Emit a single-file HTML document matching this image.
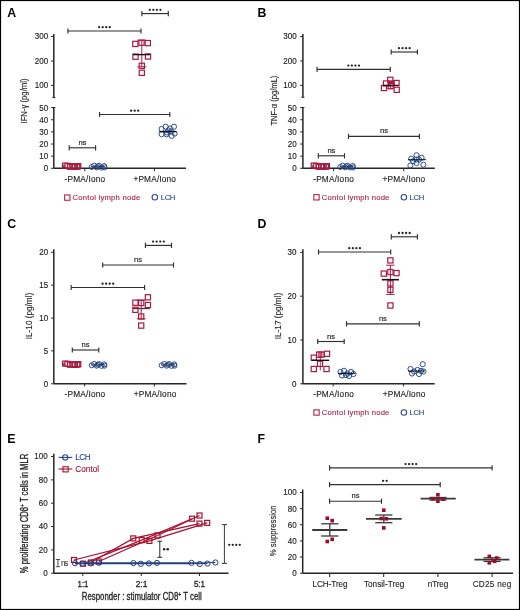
<!DOCTYPE html>
<html><head><meta charset="utf-8"><style>
html,body{margin:0;padding:0;background:#fff;}
svg{display:block;will-change:transform;}
text{font-family:"Liberation Sans", sans-serif;}
</style></head><body>
<svg width="520" height="610" viewBox="0 0 520 610">
<rect x="0" y="0" width="520" height="610" fill="#fff"/>
<text x="7.2" y="17.3" font-size="12.3" text-anchor="start" fill="#000" font-weight="bold" >A</text>
<line x1="53.8" y1="34" x2="53.8" y2="97.6" stroke="#262626" stroke-width="1.5" />
<line x1="52.3" y1="97.6" x2="55.3" y2="97.6" stroke="#262626" stroke-width="1.0" />
<line x1="51.1" y1="36.5" x2="53.8" y2="36.5" stroke="#262626" stroke-width="1.0" />
<text x="48.1" y="39.4" font-size="8.9" text-anchor="end" fill="#222" font-weight="normal" stroke="#222" stroke-width="0.15" textLength="13.36" lengthAdjust="spacingAndGlyphs">300</text>
<line x1="51.1" y1="61" x2="53.8" y2="61" stroke="#262626" stroke-width="1.0" />
<text x="48.1" y="63.9" font-size="8.9" text-anchor="end" fill="#222" font-weight="normal" stroke="#222" stroke-width="0.15" textLength="13.36" lengthAdjust="spacingAndGlyphs">200</text>
<line x1="51.1" y1="85.4" x2="53.8" y2="85.4" stroke="#262626" stroke-width="1.0" />
<text x="48.1" y="88.30000000000001" font-size="8.9" text-anchor="end" fill="#222" font-weight="normal" stroke="#222" stroke-width="0.15" textLength="13.36" lengthAdjust="spacingAndGlyphs">100</text>
<line x1="53.8" y1="107.5" x2="53.8" y2="168.3" stroke="#262626" stroke-width="1.5" />
<line x1="52.3" y1="107.5" x2="55.3" y2="107.5" stroke="#262626" stroke-width="1.0" />
<line x1="51.1" y1="107.6" x2="53.8" y2="107.6" stroke="#262626" stroke-width="1.0" />
<text x="48.1" y="110.5" font-size="8.9" text-anchor="end" fill="#222" font-weight="normal" stroke="#222" stroke-width="0.15" textLength="8.91" lengthAdjust="spacingAndGlyphs">50</text>
<line x1="51.1" y1="119.74" x2="53.8" y2="119.74" stroke="#262626" stroke-width="1.0" />
<text x="48.1" y="122.64" font-size="8.9" text-anchor="end" fill="#222" font-weight="normal" stroke="#222" stroke-width="0.15" textLength="8.91" lengthAdjust="spacingAndGlyphs">40</text>
<line x1="51.1" y1="131.88" x2="53.8" y2="131.88" stroke="#262626" stroke-width="1.0" />
<text x="48.1" y="134.78" font-size="8.9" text-anchor="end" fill="#222" font-weight="normal" stroke="#222" stroke-width="0.15" textLength="8.91" lengthAdjust="spacingAndGlyphs">30</text>
<line x1="51.1" y1="144.01999999999998" x2="53.8" y2="144.01999999999998" stroke="#262626" stroke-width="1.0" />
<text x="48.1" y="146.92" font-size="8.9" text-anchor="end" fill="#222" font-weight="normal" stroke="#222" stroke-width="0.15" textLength="8.91" lengthAdjust="spacingAndGlyphs">20</text>
<line x1="51.1" y1="156.16" x2="53.8" y2="156.16" stroke="#262626" stroke-width="1.0" />
<text x="48.1" y="159.06" font-size="8.9" text-anchor="end" fill="#222" font-weight="normal" stroke="#222" stroke-width="0.15" textLength="8.91" lengthAdjust="spacingAndGlyphs">10</text>
<line x1="51.1" y1="168.3" x2="53.8" y2="168.3" stroke="#262626" stroke-width="1.0" />
<text x="48.1" y="171.20000000000002" font-size="8.9" text-anchor="end" fill="#222" font-weight="normal" stroke="#222" stroke-width="0.15" textLength="4.45" lengthAdjust="spacingAndGlyphs">0</text>
<line x1="53.8" y1="168.3" x2="186" y2="168.3" stroke="#262626" stroke-width="1.5" />
<line x1="84.8" y1="168.3" x2="84.8" y2="171.2" stroke="#262626" stroke-width="1.0" />
<line x1="154.4" y1="168.3" x2="154.4" y2="171.2" stroke="#262626" stroke-width="1.0" />
<text x="84.9" y="181.9" font-size="8.3" text-anchor="middle" fill="#222" font-weight="normal" stroke="#222" stroke-width="0.12" textLength="40.6" lengthAdjust="spacing">-PMA/Iono</text>
<text x="154.7" y="181.9" font-size="8.3" text-anchor="middle" fill="#222" font-weight="normal" stroke="#222" stroke-width="0.12" textLength="42.6" lengthAdjust="spacing">+PMA/Iono</text>
<rect x="64.65" y="194.95" width="5.3" height="5.3" fill="none" stroke="#ad1840" stroke-width="1.05"/>
<text x="72.6" y="199.7" font-size="7.7" text-anchor="start" fill="#ad1840" font-weight="normal" stroke="#ad1840" stroke-width="0.1" textLength="67.6" lengthAdjust="spacing">Contol lymph node</text>
<circle cx="154.8" cy="197.2" r="2.75" fill="none" stroke="#23468a" stroke-width="1.05"/>
<text x="160.8" y="199.7" font-size="7.7" text-anchor="start" fill="#23468a" font-weight="normal" stroke="#23468a" stroke-width="0.1" textLength="14.6" lengthAdjust="spacing">LCH</text>
<text x="0" y="0" font-size="9.2" text-anchor="middle" fill="#222" stroke="#222" stroke-width="0.12" transform="translate(27.4,101) rotate(-90)"  textLength="45" lengthAdjust="spacingAndGlyphs">IFN-γ (pg/ml)</text>
<line x1="67.9" y1="31" x2="141" y2="31" stroke="#303030" stroke-width="1.15" />
<line x1="67.9" y1="28.4" x2="67.9" y2="33.6" stroke="#303030" stroke-width="1.15" />
<line x1="141" y1="28.4" x2="141" y2="33.6" stroke="#303030" stroke-width="1.15" />
<circle cx="99.12" cy="27.20" r="1.15" fill="#222"/>
<circle cx="102.67" cy="27.20" r="1.15" fill="#222"/>
<circle cx="106.22" cy="27.20" r="1.15" fill="#222"/>
<circle cx="109.78" cy="27.20" r="1.15" fill="#222"/>
<line x1="141.9" y1="13.6" x2="168.3" y2="13.6" stroke="#303030" stroke-width="1.15" />
<line x1="141.9" y1="11.0" x2="141.9" y2="16.2" stroke="#303030" stroke-width="1.15" />
<line x1="168.3" y1="11.0" x2="168.3" y2="16.2" stroke="#303030" stroke-width="1.15" />
<circle cx="149.78" cy="9.80" r="1.15" fill="#222"/>
<circle cx="153.33" cy="9.80" r="1.15" fill="#222"/>
<circle cx="156.88" cy="9.80" r="1.15" fill="#222"/>
<circle cx="160.43" cy="9.80" r="1.15" fill="#222"/>
<line x1="99.6" y1="114.5" x2="169.8" y2="114.5" stroke="#303030" stroke-width="1.15" />
<line x1="99.6" y1="111.9" x2="99.6" y2="117.1" stroke="#303030" stroke-width="1.15" />
<line x1="169.8" y1="111.9" x2="169.8" y2="117.1" stroke="#303030" stroke-width="1.15" />
<circle cx="131.15" cy="110.70" r="1.15" fill="#222"/>
<circle cx="134.70" cy="110.70" r="1.15" fill="#222"/>
<circle cx="138.25" cy="110.70" r="1.15" fill="#222"/>
<line x1="69.2" y1="147.8" x2="95.6" y2="147.8" stroke="#303030" stroke-width="1.15" />
<line x1="69.2" y1="145.20000000000002" x2="69.2" y2="150.4" stroke="#303030" stroke-width="1.15" />
<line x1="95.6" y1="145.20000000000002" x2="95.6" y2="150.4" stroke="#303030" stroke-width="1.15" />
<text x="82.4" y="144.8" font-size="7.6" text-anchor="middle" fill="#222" font-weight="normal" stroke="#222" stroke-width="0.15" >ns</text>
<line x1="141.8" y1="40.2" x2="141.8" y2="66.8" stroke="#ad1840" stroke-width="1.0" />
<line x1="137.4" y1="40.2" x2="146.20000000000002" y2="40.2" stroke="#ad1840" stroke-width="1.0" />
<line x1="137.4" y1="66.8" x2="146.20000000000002" y2="66.8" stroke="#ad1840" stroke-width="1.0" />
<rect x="132.70" y="41.30" width="5.2" height="5.2" fill="none" stroke="#ad1840" stroke-width="1.2"/>
<rect x="138.90" y="40.10" width="5.2" height="5.2" fill="none" stroke="#ad1840" stroke-width="1.2"/>
<rect x="145.20" y="40.50" width="5.2" height="5.2" fill="none" stroke="#ad1840" stroke-width="1.2"/>
<rect x="132.90" y="54.10" width="5.2" height="5.2" fill="none" stroke="#ad1840" stroke-width="1.2"/>
<rect x="145.40" y="53.90" width="5.2" height="5.2" fill="none" stroke="#ad1840" stroke-width="1.2"/>
<rect x="139.20" y="63.20" width="5.2" height="5.2" fill="none" stroke="#ad1840" stroke-width="1.2"/>
<rect x="139.20" y="70.20" width="5.2" height="5.2" fill="none" stroke="#ad1840" stroke-width="1.2"/>
<line x1="132.8" y1="54.6" x2="150.1" y2="54.6" stroke="#111" stroke-width="1.4" />
<circle cx="165.7" cy="126.7" r="2.55" fill="none" stroke="#23468a" stroke-width="0.95"/>
<circle cx="174" cy="126.7" r="2.55" fill="none" stroke="#23468a" stroke-width="0.95"/>
<circle cx="161.6" cy="129" r="2.55" fill="none" stroke="#23468a" stroke-width="0.95"/>
<circle cx="161.6" cy="134.2" r="2.55" fill="none" stroke="#23468a" stroke-width="0.95"/>
<circle cx="166.5" cy="134.4" r="2.55" fill="none" stroke="#23468a" stroke-width="0.95"/>
<circle cx="171.7" cy="135.9" r="2.55" fill="none" stroke="#23468a" stroke-width="0.95"/>
<circle cx="174.6" cy="133.6" r="2.55" fill="none" stroke="#23468a" stroke-width="0.95"/>
<circle cx="168.5" cy="130.5" r="2.55" fill="none" stroke="#23468a" stroke-width="0.95"/>
<circle cx="170" cy="128.5" r="2.55" fill="none" stroke="#23468a" stroke-width="0.95"/>
<circle cx="167" cy="132.5" r="2.55" fill="none" stroke="#23468a" stroke-width="0.95"/>
<circle cx="171" cy="131.5" r="2.55" fill="none" stroke="#23468a" stroke-width="0.95"/>
<line x1="159.3" y1="131.6" x2="176.6" y2="131.6" stroke="#111" stroke-width="1.3" />
<rect x="62.50" y="163.10" width="5.0" height="5.0" fill="none" stroke="#ad1840" stroke-width="1.2"/>
<rect x="65.00" y="163.30" width="5.0" height="5.0" fill="none" stroke="#ad1840" stroke-width="1.2"/>
<rect x="67.50" y="164.30" width="5.0" height="5.0" fill="none" stroke="#ad1840" stroke-width="1.2"/>
<rect x="70.00" y="163.70" width="5.0" height="5.0" fill="none" stroke="#ad1840" stroke-width="1.2"/>
<rect x="72.50" y="164.40" width="5.0" height="5.0" fill="none" stroke="#ad1840" stroke-width="1.2"/>
<rect x="75.00" y="164.20" width="5.0" height="5.0" fill="none" stroke="#ad1840" stroke-width="1.2"/>
<rect x="75.80" y="163.60" width="5.0" height="5.0" fill="none" stroke="#ad1840" stroke-width="1.2"/>
<line x1="63.5" y1="164.8" x2="63.5" y2="168.0" stroke="#333" stroke-width="0.7" />
<line x1="64.3" y1="164.8" x2="64.3" y2="168.0" stroke="#333" stroke-width="0.7" />
<line x1="71.5" y1="164.8" x2="71.5" y2="168.0" stroke="#333" stroke-width="0.7" />
<line x1="76.7" y1="164.8" x2="76.7" y2="168.0" stroke="#333" stroke-width="0.7" />
<line x1="79.3" y1="164.8" x2="79.3" y2="168.0" stroke="#333" stroke-width="0.7" />
<circle cx="91.7" cy="167.0" r="2.5" fill="none" stroke="#23468a" stroke-width="0.95"/>
<circle cx="94.2" cy="165.6" r="2.5" fill="none" stroke="#23468a" stroke-width="0.95"/>
<circle cx="96.7" cy="167.4" r="2.5" fill="none" stroke="#23468a" stroke-width="0.95"/>
<circle cx="99.2" cy="165.79999999999998" r="2.5" fill="none" stroke="#23468a" stroke-width="0.95"/>
<circle cx="101.6" cy="167.6" r="2.5" fill="none" stroke="#23468a" stroke-width="0.95"/>
<circle cx="104.2" cy="166.0" r="2.5" fill="none" stroke="#23468a" stroke-width="0.95"/>
<circle cx="104.5" cy="167.4" r="2.5" fill="none" stroke="#23468a" stroke-width="0.95"/>
<circle cx="97.8" cy="166.29999999999998" r="2.5" fill="none" stroke="#23468a" stroke-width="0.95"/>
<line x1="91" y1="166.6" x2="105" y2="166.6" stroke="#222" stroke-width="0.7" />
<text x="257.6" y="17.2" font-size="12.3" text-anchor="start" fill="#000" font-weight="bold" >B</text>
<line x1="302.9" y1="34" x2="302.9" y2="97.3" stroke="#262626" stroke-width="1.5" />
<line x1="301.4" y1="97.3" x2="304.4" y2="97.3" stroke="#262626" stroke-width="1.0" />
<line x1="300.2" y1="36.5" x2="302.9" y2="36.5" stroke="#262626" stroke-width="1.0" />
<text x="296.6" y="39.4" font-size="8.9" text-anchor="end" fill="#222" font-weight="normal" stroke="#222" stroke-width="0.15" textLength="13.36" lengthAdjust="spacingAndGlyphs">300</text>
<line x1="300.2" y1="61" x2="302.9" y2="61" stroke="#262626" stroke-width="1.0" />
<text x="296.6" y="63.9" font-size="8.9" text-anchor="end" fill="#222" font-weight="normal" stroke="#222" stroke-width="0.15" textLength="13.36" lengthAdjust="spacingAndGlyphs">200</text>
<line x1="300.2" y1="85.4" x2="302.9" y2="85.4" stroke="#262626" stroke-width="1.0" />
<text x="296.6" y="88.30000000000001" font-size="8.9" text-anchor="end" fill="#222" font-weight="normal" stroke="#222" stroke-width="0.15" textLength="13.36" lengthAdjust="spacingAndGlyphs">100</text>
<line x1="302.9" y1="107.5" x2="302.9" y2="168.3" stroke="#262626" stroke-width="1.5" />
<line x1="301.4" y1="107.5" x2="304.4" y2="107.5" stroke="#262626" stroke-width="1.0" />
<line x1="300.2" y1="107.6" x2="302.9" y2="107.6" stroke="#262626" stroke-width="1.0" />
<text x="296.6" y="110.5" font-size="8.9" text-anchor="end" fill="#222" font-weight="normal" stroke="#222" stroke-width="0.15" textLength="8.91" lengthAdjust="spacingAndGlyphs">50</text>
<line x1="300.2" y1="119.74" x2="302.9" y2="119.74" stroke="#262626" stroke-width="1.0" />
<text x="296.6" y="122.64" font-size="8.9" text-anchor="end" fill="#222" font-weight="normal" stroke="#222" stroke-width="0.15" textLength="8.91" lengthAdjust="spacingAndGlyphs">40</text>
<line x1="300.2" y1="131.88" x2="302.9" y2="131.88" stroke="#262626" stroke-width="1.0" />
<text x="296.6" y="134.78" font-size="8.9" text-anchor="end" fill="#222" font-weight="normal" stroke="#222" stroke-width="0.15" textLength="8.91" lengthAdjust="spacingAndGlyphs">30</text>
<line x1="300.2" y1="144.01999999999998" x2="302.9" y2="144.01999999999998" stroke="#262626" stroke-width="1.0" />
<text x="296.6" y="146.92" font-size="8.9" text-anchor="end" fill="#222" font-weight="normal" stroke="#222" stroke-width="0.15" textLength="8.91" lengthAdjust="spacingAndGlyphs">20</text>
<line x1="300.2" y1="156.16" x2="302.9" y2="156.16" stroke="#262626" stroke-width="1.0" />
<text x="296.6" y="159.06" font-size="8.9" text-anchor="end" fill="#222" font-weight="normal" stroke="#222" stroke-width="0.15" textLength="8.91" lengthAdjust="spacingAndGlyphs">10</text>
<line x1="300.2" y1="168.3" x2="302.9" y2="168.3" stroke="#262626" stroke-width="1.0" />
<text x="296.6" y="171.20000000000002" font-size="8.9" text-anchor="end" fill="#222" font-weight="normal" stroke="#222" stroke-width="0.15" textLength="4.45" lengthAdjust="spacingAndGlyphs">0</text>
<line x1="302.9" y1="168.3" x2="434.8" y2="168.3" stroke="#262626" stroke-width="1.5" />
<line x1="333.6" y1="168.3" x2="333.6" y2="171.2" stroke="#262626" stroke-width="1.0" />
<line x1="403.7" y1="168.3" x2="403.7" y2="171.2" stroke="#262626" stroke-width="1.0" />
<text x="333.5" y="181.9" font-size="8.3" text-anchor="middle" fill="#222" font-weight="normal" stroke="#222" stroke-width="0.12" textLength="40.6" lengthAdjust="spacing">-PMA/Iono</text>
<text x="403.8" y="181.9" font-size="8.3" text-anchor="middle" fill="#222" font-weight="normal" stroke="#222" stroke-width="0.12" textLength="42.6" lengthAdjust="spacing">+PMA/Iono</text>
<rect x="313.85" y="194.65" width="5.3" height="5.3" fill="none" stroke="#ad1840" stroke-width="1.05"/>
<text x="321.8" y="199.5" font-size="7.7" text-anchor="start" fill="#ad1840" font-weight="normal" stroke="#ad1840" stroke-width="0.1" textLength="67.6" lengthAdjust="spacing">Contol lymph node</text>
<circle cx="403.9" cy="197.2" r="2.75" fill="none" stroke="#23468a" stroke-width="1.05"/>
<text x="409.6" y="199.5" font-size="7.7" text-anchor="start" fill="#23468a" font-weight="normal" stroke="#23468a" stroke-width="0.1" textLength="14.6" lengthAdjust="spacing">LCH</text>
<text x="0" y="0" font-size="9.2" text-anchor="middle" fill="#222" stroke="#222" stroke-width="0.12" transform="translate(276.7,100.6) rotate(-90)"  textLength="50" lengthAdjust="spacingAndGlyphs">TNF-α (pg/mL)</text>
<line x1="317" y1="69.4" x2="390.3" y2="69.4" stroke="#303030" stroke-width="1.15" />
<line x1="317" y1="66.80000000000001" x2="317" y2="72.0" stroke="#303030" stroke-width="1.15" />
<line x1="390.3" y1="66.80000000000001" x2="390.3" y2="72.0" stroke="#303030" stroke-width="1.15" />
<circle cx="348.32" cy="65.60" r="1.15" fill="#222"/>
<circle cx="351.88" cy="65.60" r="1.15" fill="#222"/>
<circle cx="355.43" cy="65.60" r="1.15" fill="#222"/>
<circle cx="358.97" cy="65.60" r="1.15" fill="#222"/>
<line x1="391.2" y1="52" x2="417.4" y2="52" stroke="#303030" stroke-width="1.15" />
<line x1="391.2" y1="49.4" x2="391.2" y2="54.6" stroke="#303030" stroke-width="1.15" />
<line x1="417.4" y1="49.4" x2="417.4" y2="54.6" stroke="#303030" stroke-width="1.15" />
<circle cx="398.97" cy="48.20" r="1.15" fill="#222"/>
<circle cx="402.52" cy="48.20" r="1.15" fill="#222"/>
<circle cx="406.07" cy="48.20" r="1.15" fill="#222"/>
<circle cx="409.62" cy="48.20" r="1.15" fill="#222"/>
<line x1="348.5" y1="136.4" x2="419.4" y2="136.4" stroke="#303030" stroke-width="1.15" />
<line x1="348.5" y1="133.8" x2="348.5" y2="139.0" stroke="#303030" stroke-width="1.15" />
<line x1="419.4" y1="133.8" x2="419.4" y2="139.0" stroke="#303030" stroke-width="1.15" />
<text x="383.95" y="133.4" font-size="7.6" text-anchor="middle" fill="#222" font-weight="normal" stroke="#222" stroke-width="0.15" >ns</text>
<line x1="318.3" y1="155.8" x2="344.5" y2="155.8" stroke="#303030" stroke-width="1.15" />
<line x1="318.3" y1="153.20000000000002" x2="318.3" y2="158.4" stroke="#303030" stroke-width="1.15" />
<line x1="344.5" y1="153.20000000000002" x2="344.5" y2="158.4" stroke="#303030" stroke-width="1.15" />
<text x="331.4" y="152.8" font-size="7.6" text-anchor="middle" fill="#222" font-weight="normal" stroke="#222" stroke-width="0.15" >ns</text>
<line x1="390.5" y1="81.5" x2="390.5" y2="88.5" stroke="#ad1840" stroke-width="0.9" />
<line x1="387.5" y1="81.5" x2="393.5" y2="81.5" stroke="#ad1840" stroke-width="0.9" />
<line x1="387.5" y1="88.5" x2="393.5" y2="88.5" stroke="#ad1840" stroke-width="0.9" />
<rect x="387.70" y="77.20" width="5.2" height="5.2" fill="none" stroke="#ad1840" stroke-width="1.2"/>
<rect x="383.40" y="80.90" width="5.2" height="5.2" fill="none" stroke="#ad1840" stroke-width="1.2"/>
<rect x="393.90" y="80.40" width="5.2" height="5.2" fill="none" stroke="#ad1840" stroke-width="1.2"/>
<rect x="381.40" y="85.40" width="5.2" height="5.2" fill="none" stroke="#ad1840" stroke-width="1.2"/>
<rect x="388.10" y="83.60" width="5.2" height="5.2" fill="none" stroke="#ad1840" stroke-width="1.2"/>
<rect x="394.10" y="87.20" width="5.2" height="5.2" fill="none" stroke="#ad1840" stroke-width="1.2"/>
<rect x="388.90" y="80.90" width="5.2" height="5.2" fill="none" stroke="#ad1840" stroke-width="1.2"/>
<line x1="383" y1="85.3" x2="398.5" y2="85.3" stroke="#111" stroke-width="1.1" />
<circle cx="411.3" cy="158.6" r="2.55" fill="none" stroke="#23468a" stroke-width="0.95"/>
<circle cx="416.5" cy="155.2" r="2.55" fill="none" stroke="#23468a" stroke-width="0.95"/>
<circle cx="421.6" cy="157.8" r="2.55" fill="none" stroke="#23468a" stroke-width="0.95"/>
<circle cx="410.4" cy="165.5" r="2.55" fill="none" stroke="#23468a" stroke-width="0.95"/>
<circle cx="416.5" cy="163" r="2.55" fill="none" stroke="#23468a" stroke-width="0.95"/>
<circle cx="423.4" cy="164.7" r="2.55" fill="none" stroke="#23468a" stroke-width="0.95"/>
<circle cx="419" cy="159.5" r="2.55" fill="none" stroke="#23468a" stroke-width="0.95"/>
<circle cx="413" cy="161.2" r="2.55" fill="none" stroke="#23468a" stroke-width="0.95"/>
<circle cx="416.5" cy="159.5" r="2.55" fill="none" stroke="#23468a" stroke-width="0.95"/>
<line x1="408" y1="159.7" x2="426" y2="159.7" stroke="#111" stroke-width="1.0" />
<rect x="311.20" y="163.10" width="5.0" height="5.0" fill="none" stroke="#ad1840" stroke-width="1.2"/>
<rect x="313.70" y="163.30" width="5.0" height="5.0" fill="none" stroke="#ad1840" stroke-width="1.2"/>
<rect x="316.20" y="164.30" width="5.0" height="5.0" fill="none" stroke="#ad1840" stroke-width="1.2"/>
<rect x="318.70" y="163.70" width="5.0" height="5.0" fill="none" stroke="#ad1840" stroke-width="1.2"/>
<rect x="321.20" y="164.40" width="5.0" height="5.0" fill="none" stroke="#ad1840" stroke-width="1.2"/>
<rect x="323.70" y="164.20" width="5.0" height="5.0" fill="none" stroke="#ad1840" stroke-width="1.2"/>
<rect x="324.50" y="163.60" width="5.0" height="5.0" fill="none" stroke="#ad1840" stroke-width="1.2"/>
<line x1="312.2" y1="164.8" x2="312.2" y2="168.0" stroke="#333" stroke-width="0.7" />
<line x1="313.0" y1="164.8" x2="313.0" y2="168.0" stroke="#333" stroke-width="0.7" />
<line x1="320.2" y1="164.8" x2="320.2" y2="168.0" stroke="#333" stroke-width="0.7" />
<line x1="325.4" y1="164.8" x2="325.4" y2="168.0" stroke="#333" stroke-width="0.7" />
<line x1="328.0" y1="164.8" x2="328.0" y2="168.0" stroke="#333" stroke-width="0.7" />
<circle cx="340.2" cy="167.0" r="2.5" fill="none" stroke="#23468a" stroke-width="0.95"/>
<circle cx="342.7" cy="165.6" r="2.5" fill="none" stroke="#23468a" stroke-width="0.95"/>
<circle cx="345.2" cy="167.4" r="2.5" fill="none" stroke="#23468a" stroke-width="0.95"/>
<circle cx="347.7" cy="165.79999999999998" r="2.5" fill="none" stroke="#23468a" stroke-width="0.95"/>
<circle cx="350.1" cy="167.6" r="2.5" fill="none" stroke="#23468a" stroke-width="0.95"/>
<circle cx="352.7" cy="166.0" r="2.5" fill="none" stroke="#23468a" stroke-width="0.95"/>
<circle cx="353.0" cy="167.4" r="2.5" fill="none" stroke="#23468a" stroke-width="0.95"/>
<circle cx="346.3" cy="166.29999999999998" r="2.5" fill="none" stroke="#23468a" stroke-width="0.95"/>
<line x1="339.5" y1="166.6" x2="353.5" y2="166.6" stroke="#222" stroke-width="0.7" />
<text x="7.2" y="227.6" font-size="12.3" text-anchor="start" fill="#000" font-weight="bold" >C</text>
<line x1="53.8" y1="249.3" x2="53.8" y2="383.8" stroke="#262626" stroke-width="1.5" />
<line x1="51.099999999999994" y1="252.3" x2="53.8" y2="252.3" stroke="#262626" stroke-width="1.0" />
<text x="48.2" y="255.20000000000002" font-size="8.9" text-anchor="end" fill="#222" font-weight="normal" stroke="#222" stroke-width="0.15" textLength="8.91" lengthAdjust="spacingAndGlyphs">20</text>
<line x1="51.099999999999994" y1="285.2" x2="53.8" y2="285.2" stroke="#262626" stroke-width="1.0" />
<text x="48.2" y="288.09999999999997" font-size="8.9" text-anchor="end" fill="#222" font-weight="normal" stroke="#222" stroke-width="0.15" textLength="8.91" lengthAdjust="spacingAndGlyphs">15</text>
<line x1="51.099999999999994" y1="318.1" x2="53.8" y2="318.1" stroke="#262626" stroke-width="1.0" />
<text x="48.2" y="321.0" font-size="8.9" text-anchor="end" fill="#222" font-weight="normal" stroke="#222" stroke-width="0.15" textLength="8.91" lengthAdjust="spacingAndGlyphs">10</text>
<line x1="51.099999999999994" y1="350.9" x2="53.8" y2="350.9" stroke="#262626" stroke-width="1.0" />
<text x="48.2" y="353.79999999999995" font-size="8.9" text-anchor="end" fill="#222" font-weight="normal" stroke="#222" stroke-width="0.15" textLength="4.45" lengthAdjust="spacingAndGlyphs">5</text>
<line x1="51.099999999999994" y1="383.8" x2="53.8" y2="383.8" stroke="#262626" stroke-width="1.0" />
<text x="48.2" y="386.7" font-size="8.9" text-anchor="end" fill="#222" font-weight="normal" stroke="#222" stroke-width="0.15" textLength="4.45" lengthAdjust="spacingAndGlyphs">0</text>
<line x1="53.8" y1="383.8" x2="186.5" y2="383.8" stroke="#262626" stroke-width="1.6" />
<line x1="84.6" y1="383.5" x2="84.6" y2="386.4" stroke="#262626" stroke-width="1.0" />
<line x1="154.4" y1="383.5" x2="154.4" y2="386.4" stroke="#262626" stroke-width="1.0" />
<text x="84.9" y="397.1" font-size="8.3" text-anchor="middle" fill="#222" font-weight="normal" stroke="#222" stroke-width="0.12" textLength="40.6" lengthAdjust="spacing">-PMA/Iono</text>
<text x="155" y="397.1" font-size="8.3" text-anchor="middle" fill="#222" font-weight="normal" stroke="#222" stroke-width="0.12" textLength="42.6" lengthAdjust="spacing">+PMA/Iono</text>
<text x="0" y="0" font-size="9.2" text-anchor="middle" fill="#222" stroke="#222" stroke-width="0.12" transform="translate(32.1,316) rotate(-90)"  textLength="46.5" lengthAdjust="spacingAndGlyphs">IL-10 (pg/ml)</text>
<line x1="145.4" y1="245.4" x2="171.5" y2="245.4" stroke="#303030" stroke-width="1.15" />
<line x1="145.4" y1="242.8" x2="145.4" y2="248.0" stroke="#303030" stroke-width="1.15" />
<line x1="171.5" y1="242.8" x2="171.5" y2="248.0" stroke="#303030" stroke-width="1.15" />
<circle cx="153.12" cy="241.60" r="1.15" fill="#222"/>
<circle cx="156.68" cy="241.60" r="1.15" fill="#222"/>
<circle cx="160.22" cy="241.60" r="1.15" fill="#222"/>
<circle cx="163.78" cy="241.60" r="1.15" fill="#222"/>
<line x1="102.7" y1="265" x2="173.5" y2="265" stroke="#303030" stroke-width="1.15" />
<line x1="102.7" y1="262.4" x2="102.7" y2="267.6" stroke="#303030" stroke-width="1.15" />
<line x1="173.5" y1="262.4" x2="173.5" y2="267.6" stroke="#303030" stroke-width="1.15" />
<text x="138.1" y="262" font-size="7.6" text-anchor="middle" fill="#222" font-weight="normal" stroke="#222" stroke-width="0.15" >ns</text>
<line x1="71.2" y1="287.5" x2="144.6" y2="287.5" stroke="#303030" stroke-width="1.15" />
<line x1="71.2" y1="284.9" x2="71.2" y2="290.1" stroke="#303030" stroke-width="1.15" />
<line x1="144.6" y1="284.9" x2="144.6" y2="290.1" stroke="#303030" stroke-width="1.15" />
<circle cx="102.58" cy="283.70" r="1.15" fill="#222"/>
<circle cx="106.12" cy="283.70" r="1.15" fill="#222"/>
<circle cx="109.67" cy="283.70" r="1.15" fill="#222"/>
<circle cx="113.22" cy="283.70" r="1.15" fill="#222"/>
<line x1="72.3" y1="350" x2="98.75" y2="350" stroke="#303030" stroke-width="1.15" />
<line x1="72.3" y1="347.4" x2="72.3" y2="352.6" stroke="#303030" stroke-width="1.15" />
<line x1="98.75" y1="347.4" x2="98.75" y2="352.6" stroke="#303030" stroke-width="1.15" />
<text x="85.525" y="347" font-size="7.6" text-anchor="middle" fill="#222" font-weight="normal" stroke="#222" stroke-width="0.15" >ns</text>
<line x1="141.2" y1="300" x2="141.2" y2="318.8" stroke="#ad1840" stroke-width="1.0" />
<line x1="136.79999999999998" y1="300" x2="145.6" y2="300" stroke="#ad1840" stroke-width="1.0" />
<line x1="136.79999999999998" y1="318.8" x2="145.6" y2="318.8" stroke="#ad1840" stroke-width="1.0" />
<rect x="145.30" y="294.70" width="5.2" height="5.2" fill="none" stroke="#ad1840" stroke-width="1.2"/>
<rect x="132.80" y="300.10" width="5.2" height="5.2" fill="none" stroke="#ad1840" stroke-width="1.2"/>
<rect x="138.60" y="300.40" width="5.2" height="5.2" fill="none" stroke="#ad1840" stroke-width="1.2"/>
<rect x="145.30" y="302.40" width="5.2" height="5.2" fill="none" stroke="#ad1840" stroke-width="1.2"/>
<rect x="132.80" y="307.20" width="5.2" height="5.2" fill="none" stroke="#ad1840" stroke-width="1.2"/>
<rect x="138.60" y="313.90" width="5.2" height="5.2" fill="none" stroke="#ad1840" stroke-width="1.2"/>
<rect x="138.60" y="323.00" width="5.2" height="5.2" fill="none" stroke="#ad1840" stroke-width="1.2"/>
<line x1="133" y1="308.5" x2="149.8" y2="308.5" stroke="#3a3a3a" stroke-width="1.3" />
<rect x="62.50" y="361.10" width="5.0" height="5.0" fill="none" stroke="#ad1840" stroke-width="1.2"/>
<rect x="65.00" y="361.30" width="5.0" height="5.0" fill="none" stroke="#ad1840" stroke-width="1.2"/>
<rect x="67.50" y="362.30" width="5.0" height="5.0" fill="none" stroke="#ad1840" stroke-width="1.2"/>
<rect x="70.00" y="361.70" width="5.0" height="5.0" fill="none" stroke="#ad1840" stroke-width="1.2"/>
<rect x="72.50" y="362.40" width="5.0" height="5.0" fill="none" stroke="#ad1840" stroke-width="1.2"/>
<rect x="75.00" y="362.20" width="5.0" height="5.0" fill="none" stroke="#ad1840" stroke-width="1.2"/>
<rect x="75.80" y="361.60" width="5.0" height="5.0" fill="none" stroke="#ad1840" stroke-width="1.2"/>
<line x1="63.5" y1="362.79999999999995" x2="63.5" y2="366.0" stroke="#333" stroke-width="0.7" />
<line x1="64.3" y1="362.79999999999995" x2="64.3" y2="366.0" stroke="#333" stroke-width="0.7" />
<line x1="71.5" y1="362.79999999999995" x2="71.5" y2="366.0" stroke="#333" stroke-width="0.7" />
<line x1="76.7" y1="362.79999999999995" x2="76.7" y2="366.0" stroke="#333" stroke-width="0.7" />
<line x1="79.3" y1="362.79999999999995" x2="79.3" y2="366.0" stroke="#333" stroke-width="0.7" />
<circle cx="91.7" cy="365.29999999999995" r="2.5" fill="none" stroke="#23468a" stroke-width="0.95"/>
<circle cx="94.2" cy="363.9" r="2.5" fill="none" stroke="#23468a" stroke-width="0.95"/>
<circle cx="96.7" cy="365.7" r="2.5" fill="none" stroke="#23468a" stroke-width="0.95"/>
<circle cx="99.2" cy="364.09999999999997" r="2.5" fill="none" stroke="#23468a" stroke-width="0.95"/>
<circle cx="101.6" cy="365.9" r="2.5" fill="none" stroke="#23468a" stroke-width="0.95"/>
<circle cx="104.2" cy="364.29999999999995" r="2.5" fill="none" stroke="#23468a" stroke-width="0.95"/>
<circle cx="104.5" cy="365.7" r="2.5" fill="none" stroke="#23468a" stroke-width="0.95"/>
<circle cx="97.8" cy="364.59999999999997" r="2.5" fill="none" stroke="#23468a" stroke-width="0.95"/>
<line x1="91" y1="364.9" x2="105" y2="364.9" stroke="#222" stroke-width="0.7" />
<circle cx="161.7" cy="365.29999999999995" r="2.5" fill="none" stroke="#23468a" stroke-width="0.95"/>
<circle cx="164.2" cy="363.9" r="2.5" fill="none" stroke="#23468a" stroke-width="0.95"/>
<circle cx="166.7" cy="365.7" r="2.5" fill="none" stroke="#23468a" stroke-width="0.95"/>
<circle cx="169.2" cy="364.09999999999997" r="2.5" fill="none" stroke="#23468a" stroke-width="0.95"/>
<circle cx="171.6" cy="365.9" r="2.5" fill="none" stroke="#23468a" stroke-width="0.95"/>
<circle cx="174.2" cy="364.29999999999995" r="2.5" fill="none" stroke="#23468a" stroke-width="0.95"/>
<circle cx="174.5" cy="365.7" r="2.5" fill="none" stroke="#23468a" stroke-width="0.95"/>
<circle cx="167.8" cy="364.59999999999997" r="2.5" fill="none" stroke="#23468a" stroke-width="0.95"/>
<line x1="161" y1="364.9" x2="175" y2="364.9" stroke="#222" stroke-width="0.7" />
<text x="257.6" y="227.7" font-size="12.3" text-anchor="start" fill="#000" font-weight="bold" >D</text>
<line x1="302.9" y1="249.2" x2="302.9" y2="383.8" stroke="#262626" stroke-width="1.5" />
<line x1="300.2" y1="252.4" x2="302.9" y2="252.4" stroke="#262626" stroke-width="1.0" />
<text x="296.5" y="255.3" font-size="8.9" text-anchor="end" fill="#222" font-weight="normal" stroke="#222" stroke-width="0.15" textLength="8.91" lengthAdjust="spacingAndGlyphs">30</text>
<line x1="300.2" y1="296.2" x2="302.9" y2="296.2" stroke="#262626" stroke-width="1.0" />
<text x="296.5" y="299.09999999999997" font-size="8.9" text-anchor="end" fill="#222" font-weight="normal" stroke="#222" stroke-width="0.15" textLength="8.91" lengthAdjust="spacingAndGlyphs">20</text>
<line x1="300.2" y1="340" x2="302.9" y2="340" stroke="#262626" stroke-width="1.0" />
<text x="296.5" y="342.9" font-size="8.9" text-anchor="end" fill="#222" font-weight="normal" stroke="#222" stroke-width="0.15" textLength="8.91" lengthAdjust="spacingAndGlyphs">10</text>
<line x1="300.2" y1="383.8" x2="302.9" y2="383.8" stroke="#262626" stroke-width="1.0" />
<text x="296.5" y="386.7" font-size="8.9" text-anchor="end" fill="#222" font-weight="normal" stroke="#222" stroke-width="0.15" textLength="4.45" lengthAdjust="spacingAndGlyphs">0</text>
<line x1="302.9" y1="383.8" x2="434.7" y2="383.8" stroke="#262626" stroke-width="1.6" />
<line x1="333.2" y1="383.5" x2="333.2" y2="386.4" stroke="#262626" stroke-width="1.0" />
<line x1="403.6" y1="383.5" x2="403.6" y2="386.4" stroke="#262626" stroke-width="1.0" />
<text x="333.5" y="397.1" font-size="8.3" text-anchor="middle" fill="#222" font-weight="normal" stroke="#222" stroke-width="0.12" textLength="40.6" lengthAdjust="spacing">-PMA/Iono</text>
<text x="404" y="397.1" font-size="8.3" text-anchor="middle" fill="#222" font-weight="normal" stroke="#222" stroke-width="0.12" textLength="42.6" lengthAdjust="spacing">+PMA/Iono</text>
<rect x="313.85" y="409.85" width="5.3" height="5.3" fill="none" stroke="#ad1840" stroke-width="1.05"/>
<text x="321.8" y="414.8" font-size="7.7" text-anchor="start" fill="#ad1840" font-weight="normal" stroke="#ad1840" stroke-width="0.1" textLength="67.6" lengthAdjust="spacing">Contol lymph node</text>
<circle cx="403.9" cy="412.4" r="2.75" fill="none" stroke="#23468a" stroke-width="1.05"/>
<text x="409.6" y="414.8" font-size="7.7" text-anchor="start" fill="#23468a" font-weight="normal" stroke="#23468a" stroke-width="0.1" textLength="14.6" lengthAdjust="spacing">LCH</text>
<text x="0" y="0" font-size="9.2" text-anchor="middle" fill="#222" stroke="#222" stroke-width="0.12" transform="translate(280.6,316) rotate(-90)"  textLength="46.5" lengthAdjust="spacingAndGlyphs">IL-17 (pg/ml)</text>
<line x1="391.3" y1="236.8" x2="417.4" y2="236.8" stroke="#303030" stroke-width="1.15" />
<line x1="391.3" y1="234.20000000000002" x2="391.3" y2="239.4" stroke="#303030" stroke-width="1.15" />
<line x1="417.4" y1="234.20000000000002" x2="417.4" y2="239.4" stroke="#303030" stroke-width="1.15" />
<circle cx="399.03" cy="233.00" r="1.15" fill="#222"/>
<circle cx="402.58" cy="233.00" r="1.15" fill="#222"/>
<circle cx="406.13" cy="233.00" r="1.15" fill="#222"/>
<circle cx="409.68" cy="233.00" r="1.15" fill="#222"/>
<line x1="318.5" y1="252" x2="390.7" y2="252" stroke="#303030" stroke-width="1.15" />
<line x1="318.5" y1="249.4" x2="318.5" y2="254.6" stroke="#303030" stroke-width="1.15" />
<line x1="390.7" y1="249.4" x2="390.7" y2="254.6" stroke="#303030" stroke-width="1.15" />
<circle cx="349.28" cy="248.20" r="1.15" fill="#222"/>
<circle cx="352.83" cy="248.20" r="1.15" fill="#222"/>
<circle cx="356.38" cy="248.20" r="1.15" fill="#222"/>
<circle cx="359.93" cy="248.20" r="1.15" fill="#222"/>
<line x1="346.5" y1="323.8" x2="419.3" y2="323.8" stroke="#303030" stroke-width="1.15" />
<line x1="346.5" y1="321.2" x2="346.5" y2="326.40000000000003" stroke="#303030" stroke-width="1.15" />
<line x1="419.3" y1="321.2" x2="419.3" y2="326.40000000000003" stroke="#303030" stroke-width="1.15" />
<text x="382.9" y="320.8" font-size="7.6" text-anchor="middle" fill="#222" font-weight="normal" stroke="#222" stroke-width="0.15" >ns</text>
<line x1="317.7" y1="341.5" x2="344.2" y2="341.5" stroke="#303030" stroke-width="1.15" />
<line x1="317.7" y1="338.9" x2="317.7" y2="344.1" stroke="#303030" stroke-width="1.15" />
<line x1="344.2" y1="338.9" x2="344.2" y2="344.1" stroke="#303030" stroke-width="1.15" />
<text x="330.95" y="338.5" font-size="7.6" text-anchor="middle" fill="#222" font-weight="normal" stroke="#222" stroke-width="0.15" >ns</text>
<line x1="320.3" y1="352.5" x2="320.3" y2="370.5" stroke="#ad1840" stroke-width="0.9" />
<line x1="320.29" y1="352.5" x2="320.31" y2="352.5" stroke="#ad1840" stroke-width="0.9" />
<line x1="320.29" y1="370.5" x2="320.31" y2="370.5" stroke="#ad1840" stroke-width="0.9" />
<rect x="311.20" y="355.10" width="5.2" height="5.2" fill="none" stroke="#ad1840" stroke-width="1.2"/>
<rect x="316.60" y="352.00" width="5.2" height="5.2" fill="none" stroke="#ad1840" stroke-width="1.2"/>
<rect x="318.90" y="352.00" width="5.2" height="5.2" fill="none" stroke="#ad1840" stroke-width="1.2"/>
<rect x="324.40" y="351.20" width="5.2" height="5.2" fill="none" stroke="#ad1840" stroke-width="1.2"/>
<rect x="317.40" y="361.20" width="5.2" height="5.2" fill="none" stroke="#ad1840" stroke-width="1.2"/>
<rect x="311.20" y="366.40" width="5.2" height="5.2" fill="none" stroke="#ad1840" stroke-width="1.2"/>
<rect x="323.90" y="366.40" width="5.2" height="5.2" fill="none" stroke="#ad1840" stroke-width="1.2"/>
<line x1="311.5" y1="360.3" x2="329.2" y2="360.3" stroke="#111" stroke-width="1.4" />
<line x1="390.4" y1="265.2" x2="390.4" y2="294.4" stroke="#ad1840" stroke-width="1.0" />
<line x1="386.2" y1="265.2" x2="394.59999999999997" y2="265.2" stroke="#ad1840" stroke-width="1.0" />
<line x1="386.2" y1="294.4" x2="394.59999999999997" y2="294.4" stroke="#ad1840" stroke-width="1.0" />
<rect x="387.80" y="257.80" width="5.2" height="5.2" fill="none" stroke="#ad1840" stroke-width="1.2"/>
<rect x="381.20" y="271.00" width="5.2" height="5.2" fill="none" stroke="#ad1840" stroke-width="1.2"/>
<rect x="387.80" y="269.50" width="5.2" height="5.2" fill="none" stroke="#ad1840" stroke-width="1.2"/>
<rect x="393.90" y="270.50" width="5.2" height="5.2" fill="none" stroke="#ad1840" stroke-width="1.2"/>
<rect x="387.80" y="280.80" width="5.2" height="5.2" fill="none" stroke="#ad1840" stroke-width="1.2"/>
<rect x="387.80" y="287.20" width="5.2" height="5.2" fill="none" stroke="#ad1840" stroke-width="1.2"/>
<rect x="387.80" y="302.90" width="5.2" height="5.2" fill="none" stroke="#ad1840" stroke-width="1.2"/>
<line x1="381.8" y1="279.7" x2="399" y2="279.7" stroke="#111" stroke-width="1.6" />
<circle cx="340.5" cy="372" r="2.6" fill="none" stroke="#23468a" stroke-width="0.95"/>
<circle cx="344" cy="370.8" r="2.6" fill="none" stroke="#23468a" stroke-width="0.95"/>
<circle cx="347.5" cy="373.5" r="2.6" fill="none" stroke="#23468a" stroke-width="0.95"/>
<circle cx="351" cy="372" r="2.6" fill="none" stroke="#23468a" stroke-width="0.95"/>
<circle cx="353.5" cy="374" r="2.6" fill="none" stroke="#23468a" stroke-width="0.95"/>
<circle cx="342" cy="375.5" r="2.6" fill="none" stroke="#23468a" stroke-width="0.95"/>
<circle cx="349" cy="376" r="2.6" fill="none" stroke="#23468a" stroke-width="0.95"/>
<circle cx="346" cy="375" r="2.6" fill="none" stroke="#23468a" stroke-width="0.95"/>
<line x1="338" y1="373.4" x2="355" y2="373.4" stroke="#111" stroke-width="1.0" />
<circle cx="410.5" cy="369" r="2.6" fill="none" stroke="#23468a" stroke-width="0.95"/>
<circle cx="414" cy="371.5" r="2.6" fill="none" stroke="#23468a" stroke-width="0.95"/>
<circle cx="417.5" cy="370" r="2.6" fill="none" stroke="#23468a" stroke-width="0.95"/>
<circle cx="421" cy="371" r="2.6" fill="none" stroke="#23468a" stroke-width="0.95"/>
<circle cx="412" cy="373.5" r="2.6" fill="none" stroke="#23468a" stroke-width="0.95"/>
<circle cx="419" cy="374" r="2.6" fill="none" stroke="#23468a" stroke-width="0.95"/>
<circle cx="423.5" cy="371.5" r="2.6" fill="none" stroke="#23468a" stroke-width="0.95"/>
<circle cx="422.7" cy="364.2" r="2.6" fill="none" stroke="#23468a" stroke-width="0.95"/>
<line x1="408" y1="371" x2="425" y2="371" stroke="#111" stroke-width="1.0" />
<text x="7.2" y="443" font-size="12.3" text-anchor="start" fill="#000" font-weight="bold" >E</text>
<line x1="53.8" y1="453.7" x2="53.8" y2="573.2" stroke="#262626" stroke-width="1.5" />
<line x1="51.099999999999994" y1="456.5" x2="53.8" y2="456.5" stroke="#262626" stroke-width="1.0" />
<text x="47.6" y="459.4" font-size="8.9" text-anchor="end" fill="#222" font-weight="normal" stroke="#222" stroke-width="0.15" textLength="13.36" lengthAdjust="spacingAndGlyphs">100</text>
<line x1="51.099999999999994" y1="479.9" x2="53.8" y2="479.9" stroke="#262626" stroke-width="1.0" />
<text x="47.6" y="482.79999999999995" font-size="8.9" text-anchor="end" fill="#222" font-weight="normal" stroke="#222" stroke-width="0.15" textLength="8.91" lengthAdjust="spacingAndGlyphs">80</text>
<line x1="51.099999999999994" y1="503.2" x2="53.8" y2="503.2" stroke="#262626" stroke-width="1.0" />
<text x="47.6" y="506.09999999999997" font-size="8.9" text-anchor="end" fill="#222" font-weight="normal" stroke="#222" stroke-width="0.15" textLength="8.91" lengthAdjust="spacingAndGlyphs">60</text>
<line x1="51.099999999999994" y1="526.5" x2="53.8" y2="526.5" stroke="#262626" stroke-width="1.0" />
<text x="47.6" y="529.4" font-size="8.9" text-anchor="end" fill="#222" font-weight="normal" stroke="#222" stroke-width="0.15" textLength="8.91" lengthAdjust="spacingAndGlyphs">40</text>
<line x1="51.099999999999994" y1="549.9" x2="53.8" y2="549.9" stroke="#262626" stroke-width="1.0" />
<text x="47.6" y="552.8" font-size="8.9" text-anchor="end" fill="#222" font-weight="normal" stroke="#222" stroke-width="0.15" textLength="8.91" lengthAdjust="spacingAndGlyphs">20</text>
<line x1="51.099999999999994" y1="573.2" x2="53.8" y2="573.2" stroke="#262626" stroke-width="1.0" />
<text x="47.6" y="576.1" font-size="8.9" text-anchor="end" fill="#222" font-weight="normal" stroke="#222" stroke-width="0.15" textLength="4.45" lengthAdjust="spacingAndGlyphs">0</text>
<line x1="53.8" y1="573.2" x2="228.5" y2="573.2" stroke="#262626" stroke-width="1.6" />
<line x1="82.8" y1="573" x2="82.8" y2="576" stroke="#262626" stroke-width="1.0" />
<line x1="141.3" y1="573" x2="141.3" y2="576" stroke="#262626" stroke-width="1.0" />
<line x1="199.5" y1="573" x2="199.5" y2="576" stroke="#262626" stroke-width="1.0" />
<text x="83" y="586.9" font-size="9.2" text-anchor="middle" fill="#222" font-weight="normal" stroke="#222" stroke-width="0.3" textLength="10.9" lengthAdjust="spacingAndGlyphs">1:1</text>
<text x="141.5" y="586.9" font-size="9.2" text-anchor="middle" fill="#222" font-weight="normal" stroke="#222" stroke-width="0.3" textLength="11.6" lengthAdjust="spacingAndGlyphs">2:1</text>
<text x="199.5" y="586.9" font-size="9.2" text-anchor="middle" fill="#222" font-weight="normal" stroke="#222" stroke-width="0.3" textLength="11.2" lengthAdjust="spacingAndGlyphs">5:1</text>
<text x="141.8" y="600.4" font-size="10.2" text-anchor="middle" fill="#222" stroke="#222" stroke-width="0.3" textLength="120" lengthAdjust="spacingAndGlyphs">Responder : stimulator CD8<tspan font-size="6.5" dy="-3.6">+</tspan><tspan dy="3.6"> T cell</tspan></text>
<text x="0" y="0" font-size="10.2" text-anchor="middle" fill="#222" stroke="#222" stroke-width="0.3" transform="translate(28.4,513.5) rotate(-90)" textLength="119.5" lengthAdjust="spacingAndGlyphs">% proliferating CD8<tspan font-size="6.5" dy="-3.6">+</tspan><tspan dy="3.6"> T cells in MLR</tspan></text>
<line x1="58.5" y1="457.4" x2="72.3" y2="457.4" stroke="#23468a" stroke-width="1.1" />
<circle cx="65.2" cy="457.4" r="2.6" fill="none" stroke="#23468a" stroke-width="1.1"/>
<text x="75.2" y="460.4" font-size="8.2" text-anchor="start" fill="#23468a" font-weight="normal" stroke="#23468a" stroke-width="0.1" textLength="15.4" lengthAdjust="spacing">LCH</text>
<line x1="58.5" y1="469" x2="72.3" y2="469" stroke="#a8102f" stroke-width="1.1" />
<rect x="63.00" y="466.70" width="5.2" height="5.2" fill="none" stroke="#a8102f" stroke-width="1.1"/>
<text x="75.2" y="472" font-size="8.2" text-anchor="start" fill="#a8102f" font-weight="normal" stroke="#a8102f" stroke-width="0.1" textLength="24" lengthAdjust="spacing">Contol</text>
<polyline fill="none" stroke="#a8102f" stroke-width="1.2" points="74,560 149.4,540.9 207.2,522.9"/>
<polyline fill="none" stroke="#a8102f" stroke-width="1.2" points="82.9,563.7 141.7,540.1 192,518.7"/>
<polyline fill="none" stroke="#a8102f" stroke-width="1.2" points="90.8,562.5 133.3,538.4 199.5,523.6"/>
<polyline fill="none" stroke="#a8102f" stroke-width="1.2" points="98.8,561.5 157.5,535.5 199.5,515.5"/>
<rect x="71.50" y="557.50" width="5.0" height="5.0" fill="none" stroke="#a8102f" stroke-width="1.2"/>
<rect x="146.90" y="538.40" width="5.0" height="5.0" fill="none" stroke="#a8102f" stroke-width="1.2"/>
<rect x="204.70" y="520.40" width="5.0" height="5.0" fill="none" stroke="#a8102f" stroke-width="1.2"/>
<rect x="80.40" y="561.20" width="5.0" height="5.0" fill="none" stroke="#a8102f" stroke-width="1.2"/>
<rect x="139.20" y="537.60" width="5.0" height="5.0" fill="none" stroke="#a8102f" stroke-width="1.2"/>
<rect x="189.50" y="516.20" width="5.0" height="5.0" fill="none" stroke="#a8102f" stroke-width="1.2"/>
<rect x="88.30" y="560.00" width="5.0" height="5.0" fill="none" stroke="#a8102f" stroke-width="1.2"/>
<rect x="130.80" y="535.90" width="5.0" height="5.0" fill="none" stroke="#a8102f" stroke-width="1.2"/>
<rect x="197.00" y="521.10" width="5.0" height="5.0" fill="none" stroke="#a8102f" stroke-width="1.2"/>
<rect x="96.30" y="559.00" width="5.0" height="5.0" fill="none" stroke="#a8102f" stroke-width="1.2"/>
<rect x="155.00" y="533.00" width="5.0" height="5.0" fill="none" stroke="#a8102f" stroke-width="1.2"/>
<rect x="197.00" y="513.00" width="5.0" height="5.0" fill="none" stroke="#a8102f" stroke-width="1.2"/>
<line x1="75" y1="563.2" x2="191.5" y2="563.2" stroke="#1f3f80" stroke-width="2.1" />
<line x1="191.5" y1="563.1" x2="191.5" y2="562.9" stroke="#1f3f80" stroke-width="1.0" />
<line x1="191.5" y1="563.1" x2="199.7" y2="564" stroke="#1f3f80" stroke-width="1.0" />
<line x1="191.5" y1="563.1" x2="207.4" y2="563.6" stroke="#1f3f80" stroke-width="1.0" />
<line x1="191.5" y1="563.1" x2="215.4" y2="562.5" stroke="#1f3f80" stroke-width="1.0" />
<circle cx="75" cy="563.2" r="2.6" fill="none" stroke="#1f3f80" stroke-width="1.0"/>
<circle cx="82.6" cy="563.6" r="2.6" fill="none" stroke="#1f3f80" stroke-width="1.0"/>
<circle cx="90.7" cy="563.4" r="2.6" fill="none" stroke="#1f3f80" stroke-width="1.0"/>
<circle cx="98.8" cy="562.8" r="2.6" fill="none" stroke="#1f3f80" stroke-width="1.0"/>
<circle cx="133.4" cy="563.1" r="2.6" fill="none" stroke="#1f3f80" stroke-width="1.0"/>
<circle cx="140.8" cy="563.8" r="2.6" fill="none" stroke="#1f3f80" stroke-width="1.0"/>
<circle cx="148.9" cy="563.4" r="2.6" fill="none" stroke="#1f3f80" stroke-width="1.0"/>
<circle cx="157" cy="562.9" r="2.6" fill="none" stroke="#1f3f80" stroke-width="1.0"/>
<circle cx="191.5" cy="562.9" r="2.6" fill="none" stroke="#1f3f80" stroke-width="1.0"/>
<circle cx="199.7" cy="564" r="2.6" fill="none" stroke="#1f3f80" stroke-width="1.0"/>
<circle cx="207.4" cy="563.6" r="2.6" fill="none" stroke="#1f3f80" stroke-width="1.0"/>
<circle cx="215.4" cy="562.5" r="2.6" fill="none" stroke="#1f3f80" stroke-width="1.0"/>
<line x1="57.9" y1="559.5" x2="57.9" y2="566.7" stroke="#3a3a3a" stroke-width="0.9" />
<line x1="55.8" y1="559.5" x2="60.0" y2="559.5" stroke="#3a3a3a" stroke-width="0.9" />
<line x1="55.8" y1="566.7" x2="60.0" y2="566.7" stroke="#3a3a3a" stroke-width="0.9" />
<text x="60.9" y="566.4" font-size="8.2" text-anchor="start" fill="#333" font-weight="normal" stroke="#333" stroke-width="0.05" textLength="7.4" lengthAdjust="spacing">ns</text>
<line x1="159.8" y1="541.2" x2="159.8" y2="557.3" stroke="#2a2a2a" stroke-width="1.0" />
<line x1="157.4" y1="541.2" x2="162.20000000000002" y2="541.2" stroke="#2a2a2a" stroke-width="1.0" />
<line x1="157.4" y1="557.3" x2="162.20000000000002" y2="557.3" stroke="#2a2a2a" stroke-width="1.0" />
<circle cx="164.10" cy="549.30" r="1.25" fill="#222"/>
<circle cx="167.70" cy="549.30" r="1.25" fill="#222"/>
<line x1="224.4" y1="524.6" x2="224.4" y2="563.4" stroke="#3a3a3a" stroke-width="1.0" />
<line x1="221.8" y1="524.6" x2="227.0" y2="524.6" stroke="#3a3a3a" stroke-width="1.0" />
<line x1="221.8" y1="563.4" x2="227.0" y2="563.4" stroke="#3a3a3a" stroke-width="1.0" />
<circle cx="229.25" cy="544.80" r="1.15" fill="#222"/>
<circle cx="232.75" cy="544.80" r="1.15" fill="#222"/>
<circle cx="236.25" cy="544.80" r="1.15" fill="#222"/>
<circle cx="239.75" cy="544.80" r="1.15" fill="#222"/>
<text x="257.6" y="443" font-size="12.3" text-anchor="start" fill="#000" font-weight="bold" >F</text>
<line x1="302.7" y1="489.5" x2="302.7" y2="573.2" stroke="#262626" stroke-width="1.5" />
<line x1="300.0" y1="492.50000000000006" x2="302.7" y2="492.50000000000006" stroke="#262626" stroke-width="1.0" />
<text x="296.6" y="495.40000000000003" font-size="8.9" text-anchor="end" fill="#222" font-weight="normal" stroke="#222" stroke-width="0.15" textLength="13.36" lengthAdjust="spacingAndGlyphs">100</text>
<line x1="300.0" y1="508.64000000000004" x2="302.7" y2="508.64000000000004" stroke="#262626" stroke-width="1.0" />
<text x="296.6" y="511.54" font-size="8.9" text-anchor="end" fill="#222" font-weight="normal" stroke="#222" stroke-width="0.15" textLength="8.91" lengthAdjust="spacingAndGlyphs">80</text>
<line x1="300.0" y1="524.7800000000001" x2="302.7" y2="524.7800000000001" stroke="#262626" stroke-width="1.0" />
<text x="296.6" y="527.6800000000001" font-size="8.9" text-anchor="end" fill="#222" font-weight="normal" stroke="#222" stroke-width="0.15" textLength="8.91" lengthAdjust="spacingAndGlyphs">60</text>
<line x1="300.0" y1="540.9200000000001" x2="302.7" y2="540.9200000000001" stroke="#262626" stroke-width="1.0" />
<text x="296.6" y="543.82" font-size="8.9" text-anchor="end" fill="#222" font-weight="normal" stroke="#222" stroke-width="0.15" textLength="8.91" lengthAdjust="spacingAndGlyphs">40</text>
<line x1="300.0" y1="557.0600000000001" x2="302.7" y2="557.0600000000001" stroke="#262626" stroke-width="1.0" />
<text x="296.6" y="559.96" font-size="8.9" text-anchor="end" fill="#222" font-weight="normal" stroke="#222" stroke-width="0.15" textLength="8.91" lengthAdjust="spacingAndGlyphs">20</text>
<line x1="300.0" y1="573.2" x2="302.7" y2="573.2" stroke="#262626" stroke-width="1.0" />
<text x="296.6" y="576.1" font-size="8.9" text-anchor="end" fill="#222" font-weight="normal" stroke="#222" stroke-width="0.15" textLength="4.45" lengthAdjust="spacingAndGlyphs">0</text>
<line x1="302.7" y1="573.2" x2="513" y2="573.2" stroke="#262626" stroke-width="1.6" />
<line x1="329.7" y1="573.2" x2="329.7" y2="577" stroke="#262626" stroke-width="1.0" />
<line x1="383.7" y1="573.2" x2="383.7" y2="577" stroke="#262626" stroke-width="1.0" />
<line x1="437.9" y1="573.2" x2="437.9" y2="577" stroke="#262626" stroke-width="1.0" />
<line x1="492.1" y1="573.2" x2="492.1" y2="577" stroke="#262626" stroke-width="1.0" />
<text x="330" y="586.7" font-size="8.2" text-anchor="middle" fill="#222" font-weight="normal" stroke="#222" stroke-width="0.1" textLength="35.2" lengthAdjust="spacing">LCH-Treg</text>
<text x="384.1" y="586.7" font-size="8.2" text-anchor="middle" fill="#222" font-weight="normal" stroke="#222" stroke-width="0.1" textLength="40.4" lengthAdjust="spacing">Tonsil-Treg</text>
<text x="438" y="586.7" font-size="8.2" text-anchor="middle" fill="#222" font-weight="normal" stroke="#222" stroke-width="0.1" textLength="20.6" lengthAdjust="spacing">nTreg</text>
<text x="492.05" y="586.7" font-size="8.2" text-anchor="middle" fill="#222" font-weight="normal" stroke="#222" stroke-width="0.1" textLength="38.7" lengthAdjust="spacing">CD25 neg</text>
<text x="0" y="0" font-size="8.9" text-anchor="middle" fill="#222" stroke="#222" stroke-width="0.12" transform="translate(275.8,530.8) rotate(-90)"  textLength="51" lengthAdjust="spacingAndGlyphs">% suppression</text>
<line x1="329.6" y1="467.9" x2="492.1" y2="467.9" stroke="#303030" stroke-width="1.15" />
<line x1="329.6" y1="465.29999999999995" x2="329.6" y2="470.5" stroke="#303030" stroke-width="1.15" />
<line x1="492.1" y1="465.29999999999995" x2="492.1" y2="470.5" stroke="#303030" stroke-width="1.15" />
<circle cx="405.53" cy="464.10" r="1.15" fill="#222"/>
<circle cx="409.08" cy="464.10" r="1.15" fill="#222"/>
<circle cx="412.63" cy="464.10" r="1.15" fill="#222"/>
<circle cx="416.18" cy="464.10" r="1.15" fill="#222"/>
<line x1="329.6" y1="484.6" x2="440.2" y2="484.6" stroke="#303030" stroke-width="1.15" />
<line x1="329.6" y1="482.0" x2="329.6" y2="487.20000000000005" stroke="#303030" stroke-width="1.15" />
<line x1="440.2" y1="482.0" x2="440.2" y2="487.20000000000005" stroke="#303030" stroke-width="1.15" />
<circle cx="383.12" cy="480.80" r="1.15" fill="#222"/>
<circle cx="386.68" cy="480.80" r="1.15" fill="#222"/>
<line x1="329.6" y1="501.2" x2="381.5" y2="501.2" stroke="#303030" stroke-width="1.15" />
<line x1="329.6" y1="498.59999999999997" x2="329.6" y2="503.8" stroke="#303030" stroke-width="1.15" />
<line x1="381.5" y1="498.59999999999997" x2="381.5" y2="503.8" stroke="#303030" stroke-width="1.15" />
<text x="355.55" y="498.2" font-size="7.6" text-anchor="middle" fill="#222" font-weight="normal" stroke="#222" stroke-width="0.15" >ns</text>
<line x1="329.8" y1="523.8" x2="329.8" y2="536" stroke="#3a3a3a" stroke-width="1.3" />
<line x1="321.2" y1="523.8" x2="338.40000000000003" y2="523.8" stroke="#3a3a3a" stroke-width="1.3" />
<line x1="321.2" y1="536" x2="338.40000000000003" y2="536" stroke="#3a3a3a" stroke-width="1.3" />
<line x1="312.2" y1="530" x2="347.3" y2="530" stroke="#3a3a3a" stroke-width="1.8" />
<rect x="325.50" y="516.40" width="3.6" height="3.6" fill="#a00a28"/>
<rect x="330.40" y="518.90" width="3.6" height="3.6" fill="#a00a28"/>
<rect x="330.40" y="537.50" width="3.6" height="3.6" fill="#a00a28"/>
<rect x="325.50" y="539.70" width="3.6" height="3.6" fill="#a00a28"/>
<line x1="383.8" y1="515" x2="383.8" y2="522.7" stroke="#3a3a3a" stroke-width="1.3" />
<line x1="375.2" y1="515" x2="392.40000000000003" y2="515" stroke="#3a3a3a" stroke-width="1.3" />
<line x1="375.2" y1="522.7" x2="392.40000000000003" y2="522.7" stroke="#3a3a3a" stroke-width="1.3" />
<line x1="366" y1="518.8" x2="401.7" y2="518.8" stroke="#3a3a3a" stroke-width="1.8" />
<rect x="382.00" y="508.40" width="3.6" height="3.6" fill="#a00a28"/>
<rect x="379.40" y="516.70" width="3.6" height="3.6" fill="#a00a28"/>
<rect x="384.50" y="517.00" width="3.6" height="3.6" fill="#a00a28"/>
<rect x="382.00" y="526.10" width="3.6" height="3.6" fill="#a00a28"/>
<line x1="437.9" y1="497.5" x2="437.9" y2="500" stroke="#3a3a3a" stroke-width="1.3" />
<line x1="429.29999999999995" y1="497.5" x2="446.5" y2="497.5" stroke="#3a3a3a" stroke-width="1.3" />
<line x1="429.29999999999995" y1="500" x2="446.5" y2="500" stroke="#3a3a3a" stroke-width="1.3" />
<line x1="420.6" y1="498.7" x2="455.8" y2="498.7" stroke="#3a3a3a" stroke-width="1.8" />
<rect x="436.10" y="493.00" width="3.6" height="3.6" fill="#a00a28"/>
<rect x="431.20" y="496.90" width="3.6" height="3.6" fill="#a00a28"/>
<rect x="441.20" y="497.40" width="3.6" height="3.6" fill="#a00a28"/>
<rect x="436.10" y="499.40" width="3.6" height="3.6" fill="#a00a28"/>
<line x1="492.1" y1="557.8" x2="492.1" y2="561.4" stroke="#3a3a3a" stroke-width="1.3" />
<line x1="483.5" y1="557.8" x2="500.70000000000005" y2="557.8" stroke="#3a3a3a" stroke-width="1.3" />
<line x1="483.5" y1="561.4" x2="500.70000000000005" y2="561.4" stroke="#3a3a3a" stroke-width="1.3" />
<line x1="474.5" y1="559.6" x2="509.4" y2="559.6" stroke="#3a3a3a" stroke-width="1.8" />
<rect x="487.50" y="554.60" width="3.6" height="3.6" fill="#a00a28"/>
<rect x="494.90" y="556.20" width="3.6" height="3.6" fill="#a00a28"/>
<rect x="487.50" y="561.00" width="3.6" height="3.6" fill="#a00a28"/>
<rect x="492.80" y="559.50" width="3.6" height="3.6" fill="#a00a28"/>
<rect x="0.5" y="0.5" width="519" height="609" fill="none" stroke="#000" stroke-width="1.2"/>
</svg>
</body></html>
